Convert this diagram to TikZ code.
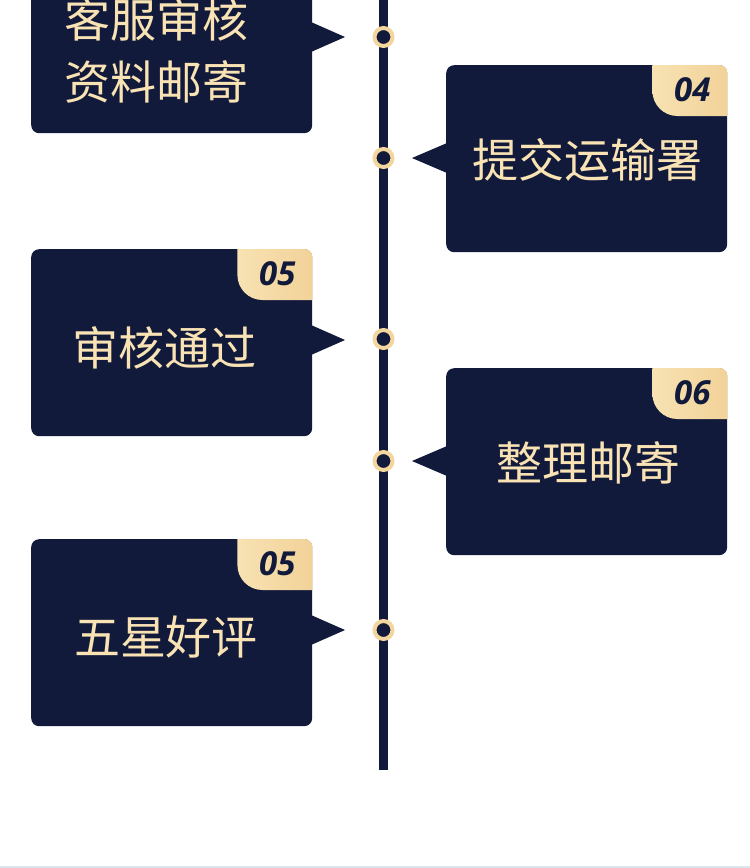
\documentclass[tikz,border=0pt]{standalone}
\usepackage{fontspec}
\newfontfamily\cjk{Noto Sans CJK SC}
\newfontfamily\numf{Open Sans}
\usetikzlibrary{calc}
\definecolor{navy}{HTML}{121A3B}
\definecolor{cream}{HTML}{F9E3B4}
\definecolor{ringc}{HTML}{F3D59E}
\definecolor{goldA}{HTML}{F8E2B3}
\definecolor{goldB}{HTML}{EDC583}
\definecolor{stripc}{HTML}{D9E6ED}
\tikzset{
  card/.style={fill=navy, rounded corners=8pt, minimum width=281pt, minimum height=187pt, inner sep=0pt, anchor=north west},
  ringdot/.style={circle, draw=ringc, line width=4pt, fill=navy, minimum size=18pt, inner sep=0pt},
  label/.style={text=cream, font=\cjk\fontsize{46}{62}\selectfont, align=center, inner sep=0pt},
  badgetext/.style={text=navy, font=\numf\bfseries\itshape\fontsize{33}{33}\selectfont, inner sep=0pt},
  badge/.style={left color=goldA, right color=goldB, rounded corners=25pt}
}
\newcommand\cardbadge[2]{%
  \begin{scope}
    \clip[rounded corners=8pt] (#1.south west) rectangle (#1.north east);
    \shade[badge] ($(#1.north east)+(-75,-40)$) -- ($(#1.north east)+(-75,51)$) -- ($(#1.north east)+(60,51)$) -- ($(#1.north east)+(60,-40)$) -- cycle;
  \end{scope}
  \node[badgetext] (#1num) at ($(#1.north east)+(-35,25)$) {#2};
}
\begin{document}
\begin{tikzpicture}[x=1pt,y=-1pt]
\useasboundingbox (0,0) rectangle (750,868);
\fill[white] (0,0) rectangle (750,868);
\fill[stripc] (0,866) rectangle (750,868);
% timeline
\fill[navy] (379,0) rectangle (388,770);
% cards
\node[card] (b1) at (31,-54) {};
\node[card] (b2) at (446,65) {};
\node[card] (b3) at (31,249) {};
\node[card] (b4) at (446,368) {};
\node[card] (b5) at (31,539) {};
% pointers
\fill[navy] (311,22) -- (345,37) -- (311,52) -- cycle;
\fill[navy] (447,143) -- (412,158) -- (447,173) -- cycle;
\fill[navy] (311,325) -- (345,340) -- (311,355) -- cycle;
\fill[navy] (447,446) -- (412,461) -- (447,476) -- cycle;
\fill[navy] (311,615) -- (345,630) -- (311,645) -- cycle;
% badges
\cardbadge{b2}{04}
\cardbadge{b3}{05}
\cardbadge{b4}{06}
\cardbadge{b5}{05}
% texts
\node[label] (t1a) at (156,20) {客服审核};
\node[label] (t1b) at (156,82) {资料邮寄};
\node[label] (t2) at (587,160) {提交运输署};
\node[label] (t3) at (164,348) {审核通过};
\node[label] (t4) at (588,463) {整理邮寄};
\node[label] (t5) at (166,637) {五星好评};
% dots
\node[ringdot] (c1) at (383.5,37) {};
\node[ringdot] (c2) at (383.5,158) {};
\node[ringdot] (c3) at (383.5,339) {};
\node[ringdot] (c4) at (383.5,461) {};
\node[ringdot] (c5) at (383.5,630) {};
\end{tikzpicture}
\end{document}
